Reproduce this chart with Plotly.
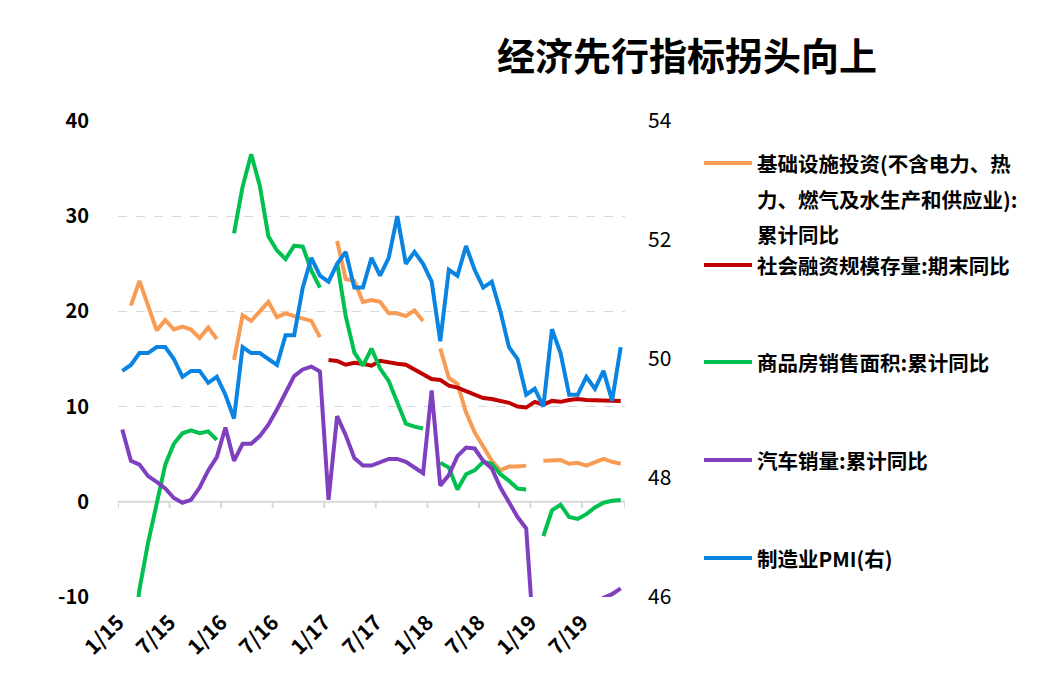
import pandas as pd
import plotly.graph_objects as go

N = None
months = pd.period_range("2015-01", "2019-11", freq="M").strftime("%Y-%m").tolist()
tick_months = ["2015-01", "2015-07", "2016-01", "2016-07", "2017-01",
               "2017-07", "2018-01", "2018-07", "2019-01", "2019-07"]
tick_text = ["1/15", "7/15", "1/16", "7/16", "1/17", "7/17", "1/18", "7/18", "1/19", "7/19"]

infra = [N, 20.6, 23.2, 20.6, 18.0, 19.1, 18.1, 18.4, 18.1, 17.2, 18.3, 17.1,
         N, 14.9, 19.6, 19.0, 20.0, 21.0, 19.4, 19.8, 19.5, 19.3, 19.0, 17.3,
         N, 27.4, 23.4, 23.2, 21.0, 21.2, 21.0, 19.8, 19.8, 19.5, 20.1, 19.0,
         N, 16.1, 13.0, 12.4, 9.4, 7.3, 5.8, 4.3, 3.3, 3.7, 3.7, 3.8,
         N, 4.3, 4.4, 4.4, 4.0, 4.1, 3.8, 4.2, 4.5, 4.2, 4.0]

tsf = [N] * 24 + [14.9, 14.8, 14.4, 14.6, 14.5, 14.3, 14.8, 14.6, 14.5, 14.4, 13.9, 13.4,
                  12.9, 12.8, 12.2, 12.0, 11.6, 11.2, 10.9, 10.8, 10.6, 10.4, 10.0, 9.9,
                  10.5, 10.2, 10.6, 10.5, 10.7, 10.8, 10.7, 10.7, 10.7, 10.7, 10.6]

housing = [N, -16.3, -9.2, -4.3, -0.2, 3.9, 6.1, 7.2, 7.5, 7.2, 7.4, 6.5,
           N, 28.2, 33.1, 36.5, 33.2, 27.9, 26.4, 25.5, 26.9, 26.8, 24.3, 22.5,
           N, 25.1, 19.5, 15.7, 14.3, 16.1, 14.0, 12.7, 10.3, 8.2, 7.9, 7.7,
           N, 4.1, 3.6, 1.3, 2.9, 3.3, 4.2, 4.0, 2.9, 2.2, 1.4, 1.3,
           N, -3.6, -0.9, -0.3, -1.6, -1.8, -1.3, -0.6, -0.1, 0.1, 0.2]

autos = [7.6, 4.3, 3.9, 2.7, 2.1, 1.4, 0.4, -0.1, 0.2, 1.5, 3.3, 4.7,
         7.8, 4.3, 6.1, 6.1, 6.9, 8.1, 9.7, 11.4, 13.2, 13.9, 14.2, 13.7,
         0.2, 9.0, 7.0, 4.6, 3.8, 3.8, 4.2, 4.5, 4.5, 4.2, 3.6, 3.0,
         11.7, 1.7, 2.8, 4.8, 5.7, 5.6, 4.3, 3.5, 1.5, -0.1, -1.6, -2.8,
         -15.8, -14.7, -11.3, -12.1, -13.3, -12.4, -12.0, -11.3, -10.1, -9.7, -9.1]

pmi = [49.8, 49.9, 50.1, 50.1, 50.2, 50.2, 50.0, 49.7, 49.8, 49.8, 49.6, 49.7,
       49.4, 49.0, 50.2, 50.1, 50.1, 50.0, 49.9, 50.4, 50.4, 51.2, 51.7, 51.4,
       51.3, 51.6, 51.8, 51.2, 51.2, 51.7, 51.4, 51.7, 52.4, 51.6, 51.8, 51.6,
       51.3, 50.3, 51.5, 51.4, 51.9, 51.5, 51.2, 51.3, 50.8, 50.2, 50.0, 49.4,
       49.5, 49.2, 50.5, 50.1, 49.4, 49.4, 49.7, 49.5, 49.8, 49.3, 50.2]

names = ["基础设施投资(不含电力、热力、燃气及水生产和供应业):累计同比",
         "社会融资规模存量:期末同比",
         "商品房销售面积:累计同比",
         "汽车销量:累计同比",
         "制造业PMI(右)"]
legend_lines = [["基础设施投资(不含电力、热", "力、燃气及水生产和供应业):", "累计同比"],
                ["社会融资规模存量:期末同比"],
                ["商品房销售面积:累计同比"],
                ["汽车销量:累计同比"],
                ["制造业PMI(右)"]]
colors = ["#F89C55", "#C00000", "#00C050", "#7F3FBF", "#0A84E3"]

x = list(range(len(months)))
tick_pos = [months.index(m) - 0.5 for m in tick_months]

FONT = "Noto Sans CJK SC, Noto Sans, sans-serif"
OFF = 8  # page body margin
W, H = 1053 - OFF, 695 - OFF
L, R, T, B = 118 - OFF, 625 - OFF, 121 - OFF, 597 - OFF

fig = go.Figure()
series = [infra, tsf, housing, autos]
for s, nm, c in zip(series, names[:4], colors[:4]):
    fig.add_trace(go.Scatter(x=x, y=s, name=nm, mode="lines",
                             line=dict(color=c, width=4), connectgaps=False,
                             showlegend=False, yaxis="y"))
fig.add_trace(go.Scatter(x=x, y=pmi, name=names[4], mode="lines",
                         line=dict(color=colors[4], width=4),
                         showlegend=False, yaxis="y2"))

# zero axis line with tick marks
fig.add_shape(type="line", xref="paper", yref="y", x0=0, x1=1, y0=0, y1=0,
              line=dict(color="#D9D9D9", width=2), layer="below")
for tp in tick_pos + [len(months) - 0.5]:
    fig.add_shape(type="line", xref="x", yref="y", x0=tp, x1=tp, y0=0, y1=-0.65,
                  line=dict(color="#D9D9D9", width=2), layer="below")


def px2x(px):
    return (px - OFF - L) / (R - L)


def py2y(py):
    return (B - (py - OFF)) / (B - T)


item_y = [163, 265, 362, 460, 558]
line_gap = [0, 36, 71]
for ys, lines, c in zip(item_y, legend_lines, colors):
    fig.add_shape(type="line", xref="paper", yref="paper",
                  x0=px2x(704), x1=px2x(752), y0=py2y(ys), y1=py2y(ys),
                  line=dict(color=c, width=4))
    for k, t in enumerate(lines):
        fig.add_annotation(xref="paper", yref="paper", x=px2x(756), y=py2y(ys + line_gap[k]),
                           text="<b>%s</b>" % t, showarrow=False, xanchor="left",
                           yanchor="middle", borderpad=0,
                           font=dict(family=FONT, size=20.5, color="#000000"))

fig.update_layout(
    width=W, height=H,
    margin=dict(l=L, r=W - R, t=T, b=H - B, pad=0),
    paper_bgcolor="white", plot_bgcolor="white",
    title=dict(text="<b>经济先行指标拐头向上</b>", x=(687 - OFF) / W, xref="container",
               xanchor="center", y=1 - (57 - OFF) / H, yref="container", yanchor="middle",
               font=dict(family=FONT, size=38, color="#000000")),
    xaxis=dict(range=[-0.5, len(months) - 0.5], tickmode="array", tickvals=tick_pos,
               ticktext=["<b>%s</b>" % t for t in tick_text], tickangle=-45,
               showgrid=False, zeroline=False, showline=False, ticks="",
               ticklabelstandoff=8,
               tickfont=dict(family=FONT, size=21, color="#000000")),
    yaxis=dict(range=[-10, 40], tickmode="array", tickvals=[-10, 0, 10, 20, 30, 40],
               ticktext=["<b>%d</b>" % v for v in [-10, 0, 10, 20, 30, 40]],
               showgrid=True, gridcolor="#D9D9D9", griddash="dash", gridwidth=1,
               zeroline=False, showline=False, ticks="", ticklabelstandoff=28,
               tickfont=dict(family=FONT, size=20, color="#000000")),
    yaxis2=dict(range=[46, 54], tickmode="array", tickvals=[46, 48, 50, 52, 54],
                overlaying="y", side="right", showgrid=False, zeroline=False,
                showline=False, ticks="", ticklabelstandoff=22,
                tickfont=dict(family=FONT, size=21, color="#000000")),
)

fig.write_html("out.html")
